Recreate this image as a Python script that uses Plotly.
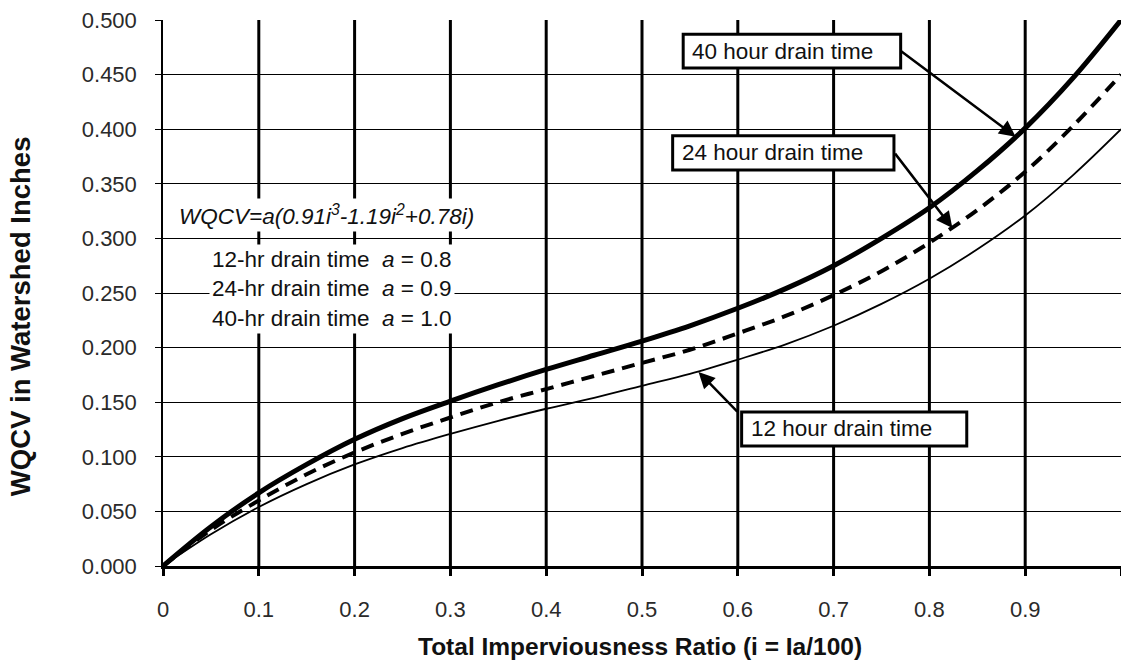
import plotly.graph_objects as go

# Imperviousness ratio i
ratio_i = [0.00, 0.05, 0.10, 0.15, 0.20, 0.25, 0.30, 0.35, 0.40, 0.45, 0.50,
           0.55, 0.60, 0.65, 0.70, 0.75, 0.80, 0.85, 0.90, 0.95, 1.00]
# WQCV (watershed inches)
wqcv_40hr = [0.000, 0.036, 0.067, 0.093, 0.116, 0.135, 0.151, 0.166, 0.180, 0.193, 0.206,
             0.220, 0.236, 0.254, 0.275, 0.300, 0.328, 0.362, 0.401, 0.447, 0.500]
wqcv_24hr = [0.000, 0.033, 0.060, 0.084, 0.104, 0.121, 0.136, 0.150, 0.162, 0.174, 0.186,
             0.198, 0.213, 0.229, 0.248, 0.270, 0.296, 0.326, 0.361, 0.403, 0.450]
wqcv_12hr = [0.000, 0.029, 0.054, 0.075, 0.093, 0.108, 0.121, 0.133, 0.144, 0.154, 0.165,
             0.176, 0.189, 0.203, 0.220, 0.240, 0.263, 0.290, 0.321, 0.358, 0.400]

x_ticks = [0, 0.1, 0.2, 0.3, 0.4, 0.5, 0.6, 0.7, 0.8, 0.9, 1.0]
x_tick_text = ["0", "0.1", "0.2", "0.3", "0.4", "0.5", "0.6", "0.7", "0.8", "0.9", "1"]
y_ticks = [0.0, 0.05, 0.10, 0.15, 0.20, 0.25, 0.30, 0.35, 0.40, 0.45, 0.50]
y_tick_text = ["0.000", "0.050", "0.100", "0.150", "0.200", "0.250", "0.300",
               "0.350", "0.400", "0.450", "0.500"]
grid_x = [0.1, 0.2, 0.3, 0.4, 0.5, 0.6, 0.7, 0.8, 0.9]

FONT = "Liberation Sans, Arial, sans-serif"

fig = go.Figure()
fig.add_trace(go.Scatter(x=ratio_i, y=wqcv_12hr, mode="lines", line=dict(color="black", width=1.8, shape="spline"),
                         name="12 hour drain time", showlegend=False))
fig.add_trace(go.Scatter(x=ratio_i, y=wqcv_24hr, mode="lines",
                         line=dict(color="black", width=4, dash="13px,8px", shape="spline"),
                         name="24 hour drain time", showlegend=False))
fig.add_trace(go.Scatter(x=ratio_i, y=wqcv_40hr, mode="lines", line=dict(color="black", width=5, shape="spline"),
                         name="40 hour drain time", showlegend=False))

shapes = []
for gx in grid_x:
    shapes.append(dict(type="line", xref="x", yref="y", x0=gx, x1=gx, y0=0, y1=0.5,
                       line=dict(color="black", width=3), layer="below"))

# label boxes (data coords)
boxes = [
    ("40 hour drain time", 0.543, 0.770, 0.456, 0.487),
    ("24 hour drain time", 0.532, 0.763, 0.3626, 0.394),
    ("12 hour drain time", 0.604, 0.839, 0.110, 0.141),
]
annotations = []
for txt, x0, x1, y0, y1 in boxes:
    shapes.append(dict(type="rect", xref="x", yref="y", x0=x0, x1=x1, y0=y0, y1=y1,
                       line=dict(color="black", width=3), fillcolor="white", layer="above"))
    annotations.append(dict(x=x0 + 0.0075, y=(y0 + y1) / 2, xref="x", yref="y", text=txt,
                            showarrow=False, xanchor="left", yanchor="middle",
                            font=dict(family=FONT, size=22.5, color="#111")))

# arrows: (tail x, tail y, head x, head y)
arrows = [
    (0.769, 0.4725, 0.890, 0.393),
    (0.763, 0.379, 0.824, 0.3095),
    (0.601, 0.140, 0.559, 0.1777),
]
for ax_, ay_, hx, hy in arrows:
    annotations.append(dict(x=hx, y=hy, ax=ax_, ay=ay_, xref="x", yref="y", axref="x", ayref="y",
                            text="", showarrow=True, arrowhead=2, arrowsize=1.3, arrowwidth=2.5,
                            arrowcolor="black", standoff=0, startstandoff=0))

# formula and coefficient text
annotations.append(dict(x=0.171, y=0.3215, xref="x", yref="y",
                        text="<i>WQCV=a(0.91i<sup>3</sup>-1.19i<sup>2</sup>+0.78i)</i>",
                        showarrow=False, xanchor="center", yanchor="middle", bgcolor="white",
                        borderpad=2, font=dict(family=FONT, size=22.5, color="#111")))
annotations.append(dict(x=0.176, y=0.2535, xref="x", yref="y",
                        text="12-hr drain time  <i>a</i> = 0.8<br>24-hr drain time  <i>a</i> = 0.9<br>40-hr drain time  <i>a</i> = 1.0",
                        showarrow=False, xanchor="center", yanchor="middle", bgcolor="white",
                        borderpad=2, align="center", font=dict(family=FONT, size=22.5, color="#111")))

# axis titles
annotations.append(dict(x=0.498, y=-0.147, xref="paper", yref="paper",
                        text="<b>Total Imperviousness Ratio (i = Ia/100)</b>", showarrow=False,
                        xanchor="center", yanchor="middle", font=dict(family=FONT, size=24.5, color="#111")))
annotations.append(dict(x=-0.148, y=0.458, xref="paper", yref="paper",
                        text="<b>WQCV in Watershed Inches</b>", showarrow=False, textangle=-90,
                        xanchor="center", yanchor="middle", font=dict(family=FONT, size=27.5, color="#111")))

fig.update_layout(
    width=1121, height=662,
    margin=dict(l=163, r=0, t=20, b=96),
    paper_bgcolor="white", plot_bgcolor="white",
    shapes=shapes, annotations=annotations,
    font=dict(family=FONT, size=22, color="#222"),
    xaxis=dict(range=[0, 1], tickvals=x_ticks, ticktext=x_tick_text, showgrid=False, zeroline=False,
               showline=True, linecolor="black", linewidth=3, ticks="outside", ticklen=7, tickwidth=3,
               tickcolor="black", ticklabelstandoff=15, automargin=False,
               tickfont=dict(family=FONT, size=22, color="#2a2a2a")),
    yaxis=dict(range=[0, 0.5], tickvals=y_ticks, ticktext=y_tick_text, showgrid=True, gridcolor="black",
               gridwidth=1, zeroline=False, showline=True, linecolor="black", linewidth=1.5,
               ticks="outside", ticklen=6, tickwidth=1, tickcolor="black", ticklabelstandoff=14,
               automargin=False, tickfont=dict(family=FONT, size=22, color="#2a2a2a")),
)

fig.write_html("out.html", config={"displayModeBar": False},
               post_script="document.body.style.margin='0';document.body.style.overflow='hidden';")
